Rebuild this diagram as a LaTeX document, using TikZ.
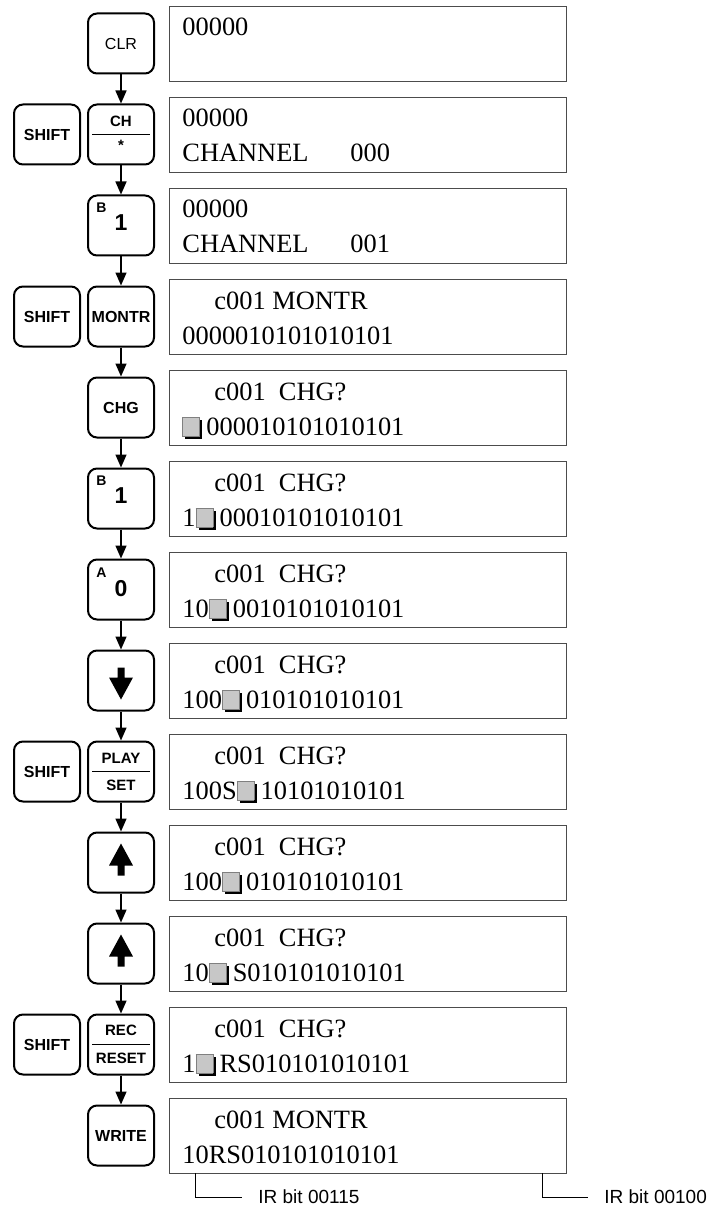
\documentclass[tikz,border=0pt]{standalone}
\usepackage{fontspec}
\setmainfont{Liberation Serif}
\setsansfont{Liberation Sans}
\usetikzlibrary{positioning, arrows.meta, calc}

% shaded cursor block of the LCD
\newcommand{\cursq}{%
  \makebox[12pt][l]{%
    \rlap{\hspace{1.5pt}\raisebox{-2pt}{\rule{8.5pt}{9.5pt}}}%
    \raisebox{-0.5pt}{\fboxsep=0pt\fboxrule=0.4pt\fcolorbox{gray}{black!22}{\rule{0pt}{9.1pt}\rule{8.1pt}{0pt}}}%
  }}

\begin{document}
\begin{tikzpicture}[
    x=0.5pt, y=-0.5pt,
    key/.style={
        draw, line width=1pt, rounded corners=4.5pt,
        minimum width=33pt, minimum height=30pt, inner sep=0pt,
        font=\sffamily\bfseries\fontsize{8}{9}\selectfont
    },
    keyplain/.style={key, font=\sffamily\fontsize{8}{9}\selectfont},
    digitkey/.style={key, font=\sffamily\bfseries\fontsize{11.5}{12}\selectfont},
    keytext/.style={inner sep=0pt, font=\sffamily\bfseries\fontsize{7.5}{8}\selectfont},
    corner/.style={inner sep=0pt, font=\sffamily\bfseries\fontsize{7}{8}\selectfont},
    divider/.style={line width=0.9pt},
    screen/.style={
        draw=black!70, line width=0.6pt, anchor=north west, inner sep=0pt,
        minimum width=198.5pt, minimum height=37.5pt
    },
    lcd/.style={anchor=base west, inner sep=0pt, font=\fontsize{13.2}{16}\selectfont},
    flow/.style={line width=0.75pt, -{Triangle[length=6.5pt, width=5.5pt]}},
    leader/.style={line width=0.5pt},
    bitlabel/.style={anchor=west, inner xsep=8pt, inner ysep=0pt, font=\sffamily\fontsize{9.5}{10}\selectfont}
]
    \useasboundingbox (0,0) rectangle (721,1209);

    % The Keys ===========================
    \node[keyplain] (Clr) at (121,43.5) {CLR};

    \node[key] (ShiftA) at (47,134.5) {SHIFT};
    \node[key] (Ch) at (121,134.5) {};
    \draw[divider] ([xshift=2.5pt]Ch.west) -- ([xshift=-2.5pt]Ch.east);
    \node[keytext, above=3.5pt of Ch.center] (ChTop) {CH};
    \node[keytext, below=2.5pt of Ch.center] (ChBot) {*};

    \node[digitkey] (OneA) at (121,225.5) {\raisebox{3pt}{1}};
    \node[corner, below right=4pt and 4.5pt of OneA.north west] (OneALetter) {B};

    \node[key] (ShiftB) at (47,316.5) {SHIFT};
    \node[key] (Montr) at (121,316.5) {MONTR};

    \node[key] (Chg) at (121,407.5) {CHG};

    \node[digitkey] (OneB) at (121,498.5) {\raisebox{3pt}{1}};
    \node[corner, below right=4pt and 4.5pt of OneB.north west] (OneBLetter) {B};

    \node[digitkey] (Zero) at (121,589.5) {\raisebox{1pt}{0}};
    \node[corner, below right=4.5pt and 4.5pt of Zero.north west] (ZeroLetter) {A};

    \node[key] (Down) at (121,680.5) {};
    \fill[shift={(Down.center)}] (0,19) -- (12,-3) -- (3.5,-3) -- (3.5,-13) -- (-3.5,-13) -- (-3.5,-3) -- (-12,-3) -- cycle;

    \node[key] (ShiftC) at (47,771.5) {SHIFT};
    \node[key] (Play) at (121,771.5) {};
    \draw[divider] ([xshift=2.5pt]Play.west) -- ([xshift=-2.5pt]Play.east);
    \node[keytext, above=4pt of Play.center] (PlayTop) {PLAY};
    \node[keytext, below=4pt of Play.center] (PlayBot) {SET};

    \node[key] (UpA) at (121,862.5) {};
    \fill[shift={(UpA.center)}] (0,-19) -- (12,3) -- (3.5,3) -- (3.5,13) -- (-3.5,13) -- (-3.5,3) -- (-12,3) -- cycle;

    \node[key] (UpB) at (121,953.5) {};
    \fill[shift={(UpB.center)}] (0,-19) -- (12,3) -- (3.5,3) -- (3.5,13) -- (-3.5,13) -- (-3.5,3) -- (-12,3) -- cycle;

    \node[key] (ShiftD) at (47,1044.5) {SHIFT};
    \node[key] (Rec) at (121,1044.5) {};
    \draw[divider] ([xshift=2.5pt]Rec.west) -- ([xshift=-2.5pt]Rec.east);
    \node[keytext, above=4pt of Rec.center] (RecTop) {REC};
    \node[keytext, below=4pt of Rec.center] (RecBot) {RESET};

    \node[key] (Write) at (121,1135.5) {WRITE};

    % Key Sequence Arrows ====================
    \draw[flow] (Clr.south) -- (Ch.north);
    \draw[flow] (Ch.south) -- (OneA.north);
    \draw[flow] (OneA.south) -- (Montr.north);
    \draw[flow] (Montr.south) -- (Chg.north);
    \draw[flow] (Chg.south) -- (OneB.north);
    \draw[flow] (OneB.south) -- (Zero.north);
    \draw[flow] (Zero.south) -- (Down.north);
    \draw[flow] (Down.south) -- (Play.north);
    \draw[flow] (Play.south) -- (UpA.north);
    \draw[flow] (UpA.south) -- (UpB.north);
    \draw[flow] (UpB.south) -- (Rec.north);
    \draw[flow] (Rec.south) -- (Write.north);

    % The Displays ===========================
    \node[screen] (ScrA) at (169,6) {};
    \node[lcd] (ScrAa) at (182,36) {00000};

    \node[screen] (ScrB) at (169,97) {};
    \node[lcd] (ScrBa) at (182,127) {00000};
    \node[lcd] (ScrBb) at (182,162) {CHANNEL};
    \node[lcd] (ScrBc) at (350,162) {000};

    \node[screen] (ScrC) at (169,188) {};
    \node[lcd] (ScrCa) at (182,218) {00000};
    \node[lcd] (ScrCb) at (182,253) {CHANNEL};
    \node[lcd] (ScrCc) at (350,253) {001};

    \node[screen] (ScrD) at (169,279) {};
    \node[lcd] (ScrDa) at (214,309) {c001 MONTR};
    \node[lcd] (ScrDb) at (182,344) {0000010101010101};

    \node[screen] (ScrE) at (169,370) {};
    \node[lcd] (ScrEa) at (214,400) {c001~~CHG?};
    \node[lcd] (ScrEb) at (182,435) {\cursq000010101010101};

    \node[screen] (ScrF) at (169,461) {};
    \node[lcd] (ScrFa) at (214,491) {c001~~CHG?};
    \node[lcd] (ScrFb) at (182,526) {1\cursq00010101010101};

    \node[screen] (ScrG) at (169,552) {};
    \node[lcd] (ScrGa) at (214,582) {c001~~CHG?};
    \node[lcd] (ScrGb) at (182,617) {10\cursq0010101010101};

    \node[screen] (ScrH) at (169,643) {};
    \node[lcd] (ScrHa) at (214,673) {c001~~CHG?};
    \node[lcd] (ScrHb) at (182,708) {100\cursq010101010101};

    \node[screen] (ScrI) at (169,734) {};
    \node[lcd] (ScrIa) at (214,764) {c001~~CHG?};
    \node[lcd] (ScrIb) at (182,799) {100S\cursq10101010101};

    \node[screen] (ScrJ) at (169,825) {};
    \node[lcd] (ScrJa) at (214,855) {c001~~CHG?};
    \node[lcd] (ScrJb) at (182,890) {100\cursq010101010101};

    \node[screen] (ScrK) at (169,916) {};
    \node[lcd] (ScrKa) at (214,946) {c001~~CHG?};
    \node[lcd] (ScrKb) at (182,981) {10\cursq S010101010101};

    \node[screen] (ScrL) at (169,1007) {};
    \node[lcd] (ScrLa) at (214,1037) {c001~~CHG?};
    \node[lcd] (ScrLb) at (182,1072) {1\cursq RS010101010101};

    \node[screen] (ScrM) at (169,1098) {};
    \node[lcd] (ScrMa) at (214,1128) {c001 MONTR};
    \node[lcd] (ScrMb) at (182,1163) {10RS010101010101};

    % Bit Labels under the last display ==================
    \coordinate (BitHi) at (195,1173);
    \coordinate (BitLo) at (542,1173);
    \node[bitlabel] (LabelHi) at (242,1197) {IR bit 00115};
    \node[bitlabel] (LabelLo) at (588,1197) {IR bit 00100};
    \draw[leader] (BitHi) |- (LabelHi.west);
    \draw[leader] (BitLo) |- (LabelLo.west);

\end{tikzpicture}
\end{document}
